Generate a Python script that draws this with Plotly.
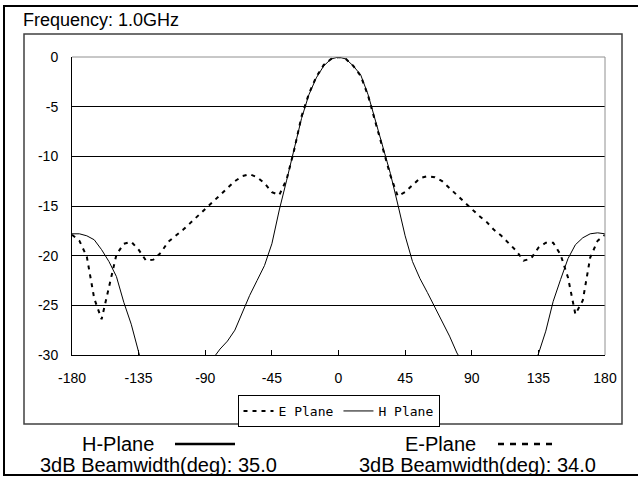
import plotly.graph_objects as go

# antenna pattern, 1.0 GHz
angle = list(range(-180, 181, 5))

h_plane = [-17.8, -17.8, -18.0, -18.4, -19.4, -20.6, -22.1, -24.7, -26.9, -29.8,
           -32.5, -34.5, -36.0, -37.0, -37.0, -36.0, -35.0, -33.5, -32.0, -30.4,
           -29.4, -28.6, -27.5, -25.8, -24.0, -22.5, -21.0, -18.8, -15.4, -12.4,
           -9.4, -6.2, -3.8, -2.1, -0.9, -0.2, 0.0, -0.2, -0.9, -1.8,
           -3.8, -6.5, -9.2, -11.7, -14.8, -18.0, -20.6, -22.3, -23.7, -25.2,
           -26.6, -28.1, -29.8, -31.0, -32.5, -34.0, -35.5, -36.5, -37.0, -36.5,
           -35.5, -34.0, -31.5, -29.9, -27.6, -24.6, -22.4, -20.3, -18.9, -18.2,
           -17.8, -17.7, -17.8]

e_plane = [-17.9, -18.5, -20.1, -24.3, -26.4, -23.3, -19.9, -18.8, -18.6, -19.4,
           -20.5, -20.4, -19.7, -18.6, -18.0, -17.4, -16.7, -16.0, -15.3, -14.6,
           -13.9, -13.1, -12.5, -12.0, -11.8, -12.1, -12.7, -13.6, -13.9, -12.3,
           -9.4, -6.0, -3.7, -2.0, -0.8, -0.2, 0.0, -0.2, -0.9, -1.9,
           -3.9, -6.6, -9.3, -11.9, -14.0, -13.6, -12.9, -12.2, -12.0, -12.1,
           -12.5, -13.2, -14.0, -14.6, -15.3, -16.0, -16.6, -17.4, -18.0, -18.7,
           -19.5, -20.5, -20.3, -19.2, -18.7, -18.7, -19.9, -22.2, -25.9, -24.5,
           -20.2, -18.5, -17.9]

x_ticks = [-180, -135, -90, -45, 0, 45, 90, 135, 180]
x_tick_text = ["-180", "-135", "-90", "-45", "0", "45", "90", "135", "180"]
y_ticks = [0, -5, -10, -15, -20, -25, -30]
y_tick_text = ["0", "-5", "-10", "-15", "-20", "-25", "-30"]

freq_label = "Frequency: 1.0GHz"
h_label = "H-Plane"
e_label = "E-Plane"
h_bw = "3dB Beamwidth(deg): 35.0"
e_bw = "3dB Beamwidth(deg): 34.0"

W, H = 638, 477
L, R, T, B = 72, 605, 57, 355  # plot area in pixels


def px(x):
    return (x - L) / (R - L)


def py(y):
    return (B - y) / (B - T)


fig = go.Figure()
fig.add_trace(go.Scatter(x=angle, y=e_plane, mode="lines", name="E Plane",
                         line=dict(color="black", width=2, dash="4px,5px")))
fig.add_trace(go.Scatter(x=angle, y=h_plane, mode="lines", name="H Plane",
                         line=dict(color="black", width=1)))

font_main = "Liberation Sans, Arial, sans-serif"


def hline(x0, x1, y, color="black", width=2, dash="solid"):
    return dict(type="line", xref="paper", yref="paper", x0=px(x0), x1=px(x1), y0=py(y), y1=py(y),
                line=dict(color=color, width=width, dash=dash))


def vline(x, y0, y1, color="black", width=2):
    return dict(type="line", xref="paper", yref="paper", x0=px(x), x1=px(x), y0=py(y0), y1=py(y1),
                line=dict(color=color, width=width))


shapes = [
    # outer frame (right edge falls outside the picture)
    hline(3, 638, 6), hline(3, 638, 475), vline(4, 5, 476),
    # chart box
    dict(type="rect", xref="paper", yref="paper", x0=px(24), x1=px(622), y0=py(424), y1=py(34),
         line=dict(color="#404040", width=1.5), layer="below"),
    # gray plot border top / right
    dict(type="line", xref="paper", yref="paper", x0=0, x1=1, y0=1, y1=1,
         line=dict(color="#909090", width=1)),
    dict(type="line", xref="paper", yref="paper", x0=1, x1=1, y0=0, y1=1,
         line=dict(color="#909090", width=1)),
    # footer line samples
    hline(175, 235, 444, width=2.5),
    hline(498, 553, 444, width=2.5, dash="6px,6px"),
]

annotations = [
    dict(text=freq_label, x=px(21), y=py(20), xanchor="left", yanchor="middle"),
    dict(text=h_label, x=px(118), y=py(444), xanchor="center", yanchor="middle"),
    dict(text=h_bw, x=px(158), y=py(465), xanchor="center", yanchor="middle"),
    dict(text=e_label, x=px(440), y=py(444), xanchor="center", yanchor="middle"),
    dict(text=e_bw, x=px(477), y=py(465), xanchor="center", yanchor="middle"),
]
for a in annotations:
    a.update(xref="paper", yref="paper", showarrow=False,
             font=dict(family=font_main, size=20 if a["text"] != freq_label else 18, color="black"))

fig.update_layout(
    width=W, height=H,
    margin=dict(l=L, r=W - R, t=T, b=H - B),
    paper_bgcolor="white", plot_bgcolor="white",
    font=dict(family=font_main, size=14, color="black"),
    showlegend=True,
    legend=dict(orientation="h", x=0.5, xanchor="center", y=py(395), yanchor="top",
                bordercolor="black", borderwidth=1, bgcolor="white",
                font=dict(family="DejaVu Sans Mono, monospace", size=13),
                itemwidth=30, tracegroupgap=0),
    xaxis=dict(range=[-180, 180], tickvals=x_ticks, ticktext=x_tick_text,
               showgrid=False, zeroline=False,
               showline=True, linecolor="black", linewidth=1,
               ticks="inside", ticklen=5, tickcolor="black", ticklabelstandoff=10),
    yaxis=dict(range=[-30, 0], tickvals=y_ticks, ticktext=y_tick_text,
               showgrid=True, gridcolor="black", gridwidth=1,
               zeroline=False, showline=True, linecolor="black", linewidth=1,
               ticks="", ticklabelstandoff=10),
    shapes=shapes,
    annotations=annotations,
)

fig.write_html("out.html", config={"displayModeBar": False},
               post_script="document.body.style.margin='0';"
                           "document.documentElement.style.overflow='hidden';"
                           "window.scrollTo(0,0);")
